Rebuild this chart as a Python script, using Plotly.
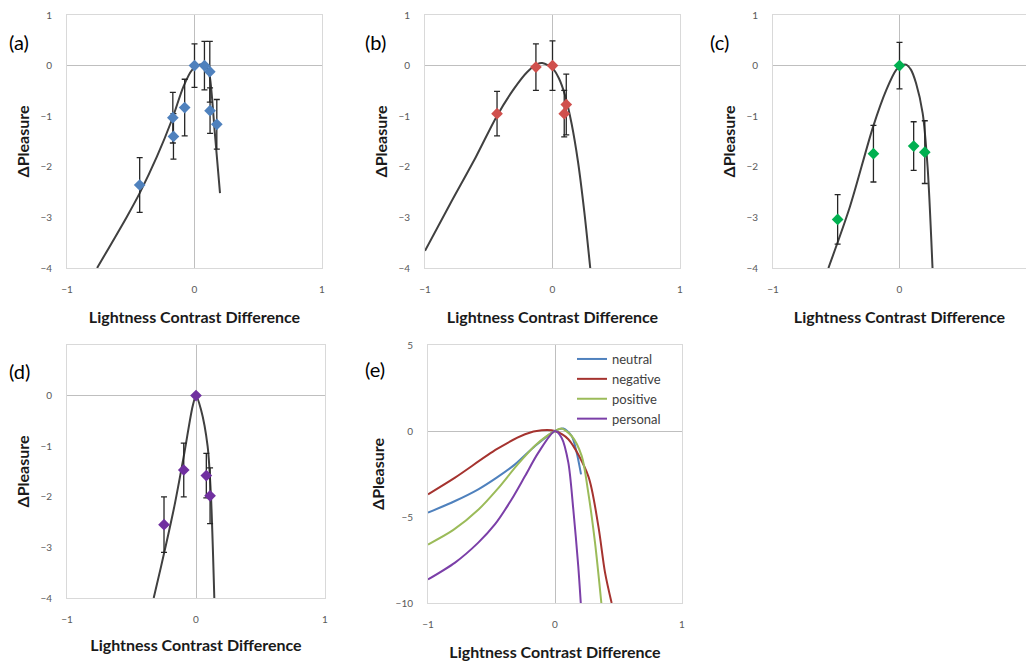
import plotly.graph_objects as go

# ---------------- data ----------------
# (a) neutral
a_pts_x = [-0.43, -0.17, -0.165, -0.077, 0.0, 0.078, 0.12, 0.122, 0.175]
a_pts_y = [-2.36, -1.03, -1.40, -0.83, 0.0, 0.0, -0.12, -0.89, -1.16]
a_pts_err = [0.54, 0.50, 0.45, 0.56, 0.43, 0.48, 0.60, 0.45, 0.49]
a_fit_x = [-0.764, -0.529, -0.43, -0.295, -0.177, -0.086, -0.02, 0.044, 0.083, 0.10, 0.12, 0.16, 0.20]
a_fit_y = [-4.0, -2.98, -2.52, -1.80, -1.07, -0.41, -0.09, 0.02, 0.0, -0.06, -0.22, -1.35, -2.52]

# (b) negative
b_pts_x = [-0.435, -0.13, 0.0, 0.092, 0.108]
b_pts_y = [-0.95, -0.03, 0.0, -0.95, -0.77]
b_pts_err = [0.44, 0.46, 0.49, 0.46, 0.60]
b_fit_x = [-1.0, -0.8, -0.6, -0.437, -0.3, -0.2, -0.12, -0.08, -0.03, 0.0, 0.05, 0.1, 0.15, 0.2, 0.25, 0.296]
b_fit_y = [-3.66, -2.72, -1.80, -1.00, -0.45, -0.13, 0.03, 0.05, 0.0, -0.05, -0.25, -0.60, -1.15, -1.90, -2.90, -4.0]

# (c) positive
c_pts_x = [-0.489, -0.206, 0.0, 0.112, 0.20]
c_pts_y = [-3.04, -1.74, 0.0, -1.59, -1.71]
c_pts_err = [0.49, 0.56, 0.46, 0.48, 0.62]
c_fit_x = [-0.562, -0.392, -0.209, -0.104, -0.026, 0.02, 0.052, 0.09, 0.131, 0.183, 0.222, 0.261]
c_fit_y = [-4.0, -2.79, -1.21, -0.48, -0.085, 0.01, 0.02, -0.08, -0.35, -0.94, -2.0, -4.0]

# (d) personal
d_pts_x = [-0.248, -0.095, 0.0, 0.08, 0.109]
d_pts_y = [-2.55, -1.47, 0.0, -1.58, -1.98]
d_pts_err = [0.55, 0.53, 0.0, 0.44, 0.55]
d_fit_x = [-0.328, -0.271, -0.168, -0.09, -0.026, 0.0, 0.039, 0.09, 0.116, 0.142]
d_fit_y = [-4.0, -3.38, -2.19, -1.13, -0.21, -0.01, -0.28, -1.0, -1.99, -4.0]

# (e) all fitted curves
e_names = ["neutral", "negative", "positive", "personal"]
e_neutral_x = [-1.0, -0.787, -0.604, -0.459, -0.315, -0.157, 0.0, 0.066, 0.131, 0.171, 0.205]
e_neutral_y = [-4.75, -4.07, -3.39, -2.71, -1.94, -0.87, 0.0, 0.14, -0.29, -1.26, -2.52]
e_negative_x = [-1.0, -0.787, -0.459, -0.236, -0.105, 0.0, 0.105, 0.262, 0.341, 0.394, 0.446]
e_negative_y = [-3.68, -2.71, -1.06, -0.19, 0.04, 0.0, -0.48, -2.62, -5.52, -8.23, -10.0]
e_positive_x = [-1.0, -0.8, -0.6, -0.45, -0.3, -0.15, 0.0, 0.052, 0.131, 0.21, 0.262, 0.315, 0.365]
e_positive_y = [-6.6, -5.75, -4.55, -3.35, -2.0, -0.8, 0.0, 0.14, -0.29, -1.45, -3.58, -6.49, -10.0]
e_personal_x = [-1.0, -0.787, -0.604, -0.472, -0.341, -0.236, -0.131, 0.0, 0.052, 0.105, 0.144, 0.183, 0.203]
e_personal_y = [-8.63, -7.65, -6.49, -5.42, -3.97, -2.62, -1.26, 0.0, -0.39, -1.84, -4.55, -7.85, -10.0]

x_ticks = [-1, 0, 1]
y_ticks_abc = [-4, -3, -2, -1, 0, 1]
y_ticks_d = [-4, -3, -2, -1, 0]
y_ticks_e = [-10, -5, 0, 5]
panel_labels = ["(a)", "(b)", "(c)", "(d)", "(e)"]
x_title = "Lightness Contrast Difference"
y_title = "ΔPleasure"

# ---------------- styles ----------------
FONT = "Lato, 'Open Sans', sans-serif"
FIT_COLOR = "#404040"
ERR_COLOR = "#262626"
pt_colors = ["#4F81BD", "#D0504D", "#00B050", "#7030A0"]
e_colors = ["#4F81BD", "#A5332F", "#9BBB59", "#7B3FA8"]

W, H = 1026, 664
boxes = [  # left, right, top, bottom in px
    (67, 322, 15, 268),
    (425, 680, 15, 268),
    (773, 1027, 15, 268),
    (67, 325, 345, 598),
    (428, 682, 345, 603),
]
x_title_standoff = [17, 17, 17, 15, 17]

fig = go.Figure()

pts = [(a_pts_x, a_pts_y, a_pts_err), (b_pts_x, b_pts_y, b_pts_err),
       (c_pts_x, c_pts_y, c_pts_err), (d_pts_x, d_pts_y, d_pts_err)]
fits = [(a_fit_x, a_fit_y), (b_fit_x, b_fit_y), (c_fit_x, c_fit_y), (d_fit_x, d_fit_y)]

for i in range(4):
    xa = "x" if i == 0 else f"x{i+1}"
    ya = "y" if i == 0 else f"y{i+1}"
    fx, fy = fits[i]
    fig.add_trace(go.Scatter(x=fx, y=fy, mode="lines", xaxis=xa, yaxis=ya,
                             line=dict(color=FIT_COLOR, width=2, shape="spline", smoothing=0.8),
                             showlegend=False, hoverinfo="skip"))
    px_, py_, pe_ = pts[i]
    fig.add_trace(go.Scatter(x=px_, y=py_, mode="markers", xaxis=xa, yaxis=ya,
                             marker=dict(symbol="diamond", size=9, color=pt_colors[i]),
                             error_y=dict(type="data", array=pe_, visible=True,
                                          color=ERR_COLOR, thickness=1.3, width=3),
                             showlegend=False))

e_data = [(e_neutral_x, e_neutral_y), (e_negative_x, e_negative_y),
          (e_positive_x, e_positive_y), (e_personal_x, e_personal_y)]
for k, (ex, ey) in enumerate(e_data):
    fig.add_trace(go.Scatter(x=ex, y=ey, mode="lines", xaxis="x5", yaxis="y5",
                             name=e_names[k],
                             line=dict(color=e_colors[k], width=2, shape="spline", smoothing=0.8)))

layout = dict(width=W, height=H, margin=dict(l=0, r=0, t=0, b=0, autoexpand=False),
              paper_bgcolor="white", plot_bgcolor="white",
              font=dict(family=FONT, color="#404040"))

y_ranges = [[-4, 1], [-4, 1], [-4, 1], [-4, 1], [-10, 5]]
y_tickvals = [y_ticks_abc, y_ticks_abc, y_ticks_abc, y_ticks_d, y_ticks_e]

for i, (l, r, t, b) in enumerate(boxes):
    xk = "xaxis" if i == 0 else f"xaxis{i+1}"
    yk = "yaxis" if i == 0 else f"yaxis{i+1}"
    ya = "y" if i == 0 else f"y{i+1}"
    xa = "x" if i == 0 else f"x{i+1}"
    layout[xk] = dict(domain=[l / W, min(r / W, 1.0)], range=[-1, 1], anchor=ya,
                      tickvals=x_ticks, showgrid=False, zeroline=True, automargin=False,
                      zerolinecolor="#BFBFBF", zerolinewidth=1,
                      showline=True, mirror=True, linecolor="#D9D9D9", linewidth=1,
                      ticks="", ticklabelstandoff=12,
                      tickfont=dict(size=10, color="#595959"),
                      title=dict(text=x_title, standoff=x_title_standoff[i],
                                 font=dict(size=16, color="#1a1a1a", weight="bold")))
    layout[yk] = dict(domain=[1 - b / H, 1 - t / H], range=y_ranges[i], anchor=xa,
                      tickvals=y_tickvals[i], showgrid=False, zeroline=True, automargin=False,
                      zerolinecolor="#BFBFBF", zerolinewidth=1,
                      showline=True, mirror=True, linecolor="#D9D9D9", linewidth=1,
                      ticks="", ticklabelstandoff=12,
                      tickfont=dict(size=10, color="#595959"),
                      title=dict(text=y_title, standoff=6,
                                 font=dict(size=16, color="#1a1a1a", weight="bold")))

label_pos = [(7, 42), (363, 42), (708, 42), (7, 371), (363, 369)]
annotations = []
for lab, (lx, ly) in zip(panel_labels, label_pos):
    annotations.append(dict(text=lab, x=lx / W, y=1 - ly / H, xref="paper", yref="paper",
                            xanchor="left", yanchor="middle", showarrow=False,
                            font=dict(size=20, color="#000000", family=FONT)))
layout["annotations"] = annotations

layout["legend"] = dict(x=572 / W, y=1 - 344 / H, xanchor="left", yanchor="top",
                        bgcolor="rgba(255,255,255,0)", borderwidth=0,
                        font=dict(size=13, color="#404040", family=FONT),
                        itemwidth=30, tracegroupgap=0)
fig.update_layout(**layout)
fig.write_html("out.html")
